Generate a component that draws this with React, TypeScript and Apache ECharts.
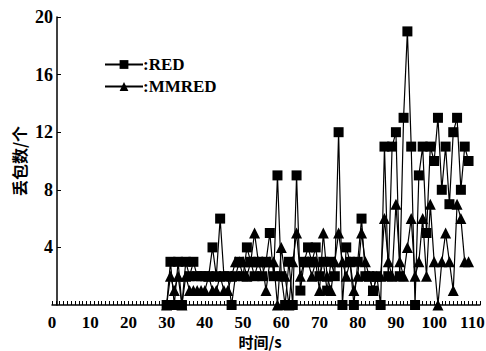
import React, { useEffect, useRef } from "react";
import * as echarts from "echarts";

const times: number[] = [];
for (let t = 30; t <= 109; t++) times.push(t);

const redValues = [
  0, 3, 0, 3, 0, 3, 2, 3, 2, 2,
  2, 2, 4, 2, 6, 2, 2, 0, 2, 3,
  2, 4, 3, 2, 3, 2, 3, 5, 2, 9,
  2, 0, 3, 0, 9, 1, 3, 4, 3, 4,
  2, 3, 1, 3, 2, 12, 0, 4, 3, 0,
  3, 6, 2, 2, 1, 2, 0, 11, 2, 11,
  12, 2, 13, 19, 11, 0, 9, 11, 5, 11,
  10, 13, 8, 11, 7, 12, 13, 8, 11, 10,
];

const mmredValues = [
  0, 2, 1, 2, 0, 2, 1, 1, 1, 1,
  1, 2, 1, 1, 2, 1, 1, 2, 3, 3,
  3, 2, 3, 5, 3, 3, 1, 3, 3, 0,
  4, 2, 0, 3, 5, 2, 3, 3, 2, 3,
  1, 5, 2, 1, 3, 5, 3, 2, 3, 1,
  2, 5, 3, 2, 1, 2, 2, 6, 3, 2,
  7, 3, 2, 4, 6, 2, 3, 6, 2, 7,
  3, 0, 3, 5, 3, 1, 7, 6, 3, 3,
];

const xTickLabels = [0, 10, 20, 30, 40, 50, 60, 70, 80, 90, 100, 110];
const yTickLabels = [4, 8, 12, 16, 20];

const seriesNames = ["RED", "MMRED"];

const serif = "'Liberation Serif', 'DejaVu Serif', serif";
const cjk = "'Noto Sans CJK SC', sans-serif";

export default function App() {
  const ref = useRef<HTMLDivElement>(null);
  useEffect(() => {
    if (!ref.current) return;
    const chart = echarts.init(ref.current, undefined, { renderer: "svg" });
    const redData = times.map((t, i) => [t, redValues[i]]);
    const mmData = times.map((t, i) => [t, mmredValues[i]]);
    chart.setOption({
      animation: false,
      backgroundColor: "#ffffff",
      grid: { left: 52, right: 6, top: 17, bottom: 46, containLabel: false, outerBoundsMode: "none" },
      legend: {
        orient: "vertical",
        left: 99,
        top: 51,
        itemWidth: 38,
        itemHeight: 11,
        itemGap: 5,
        data: seriesNames,
        formatter: (n: string) => ":" + n,
        textStyle: {
          fontFamily: serif,
          fontWeight: "bold",
          fontSize: 17,
          color: "#000",
          lineHeight: 16,
          padding: [0, 0, 0, -5],
        },
      },
      xAxis: {
        type: "value",
        min: 0,
        max: 112,
        interval: 10,
        name: "时间/s",
        nameLocation: "middle",
        nameGap: 29,
        nameMoveOverlap: false,
        nameTextStyle: {
          fontFamily: cjk,
          fontWeight: "bold",
          fontSize: 15,
          lineHeight: 15,
          color: "#000",
          padding: [0, 12, 0, 0],
        },
        axisLine: { lineStyle: { color: "#000", width: 1.5 } },
        axisTick: { inside: true, length: 4, lineStyle: { color: "#000", width: 1 } },
        minorTick: { show: true, splitNumber: 10, length: 4, lineStyle: { color: "#000", width: 1 } },
        axisLabel: {
          customValues: xTickLabels,
          fontFamily: serif,
          fontWeight: "bold",
          fontSize: 17,
          lineHeight: 16,
          color: "#000",
          margin: 9,
        },
        splitLine: { show: false },
      },
      yAxis: {
        type: "value",
        min: 0,
        max: 20,
        interval: 4,
        offset: -5,
        name: "丢包数/个",
        nameLocation: "middle",
        nameGap: 30,
        nameMoveOverlap: false,
        nameTextStyle: {
          fontFamily: cjk,
          fontWeight: "bold",
          fontSize: 16,
          color: "#000",
        },
        axisLine: { lineStyle: { color: "#000", width: 1.5 } },
        axisTick: { show: true, inside: true, length: 4, customValues: yTickLabels, lineStyle: { color: "#000" } },
        axisLabel: {
          customValues: yTickLabels,
          fontFamily: serif,
          fontWeight: "bold",
          fontSize: 18,
          color: "#000",
          margin: 4,
        },
        splitLine: { show: false },
      },
      series: [
        {
          name: seriesNames[0],
          type: "line",
          data: redData,
          symbol: "rect",
          symbolSize: 10,
          showAllSymbol: true,
          itemStyle: { color: "#000" },
          lineStyle: { color: "#000", width: 1.2 },
        },
        {
          name: seriesNames[1],
          type: "line",
          data: mmData,
          symbol: "triangle",
          symbolSize: 11,
          showAllSymbol: true,
          itemStyle: { color: "#000" },
          lineStyle: { color: "#000", width: 1.2 },
        },
      ],
    });
    return () => chart.dispose();
  }, []);
  return (
    <div
      ref={ref}
      style={{ position: "fixed", left: 0, top: 0, width: 486, height: 351, background: "#fff" }}
    />
  );
}
